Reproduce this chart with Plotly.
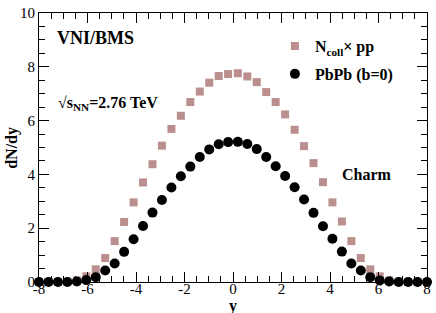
import plotly.graph_objects as go

rap = [-8.00, -7.61, -7.22, -6.83, -6.44, -6.05, -5.66, -5.27, -4.88, -4.49,
       -4.10, -3.71, -3.32, -2.93, -2.54, -2.15, -1.76, -1.37, -0.98, -0.59,
       -0.20, 0.20, 0.59, 0.98, 1.37, 1.76, 2.15, 2.54, 2.93, 3.32,
       3.71, 4.10, 4.49, 4.88, 5.27, 5.66, 6.05, 6.44, 6.83, 7.22,
       7.61, 8.00]

ncoll_pp = [0, 0, 0, 0.01, 0.06, 0.21, 0.47, 0.89, 1.52, 2.23,
            2.96, 3.70, 4.38, 5.07, 5.69, 6.18, 6.69, 7.08, 7.41, 7.66,
            7.73, 7.76, 7.64, 7.43, 7.06, 6.69, 6.23, 5.66, 5.05, 4.42,
            3.71, 2.96, 2.25, 1.52, 0.89, 0.47, 0.21, 0.06, 0.01, 0,
            0, 0]

pbpb = [0, 0, 0, 0, 0.02, 0.07, 0.18, 0.43, 0.69, 1.12,
        1.59, 2.08, 2.58, 3.05, 3.51, 3.93, 4.29, 4.65, 4.93, 5.12,
        5.20, 5.21, 5.13, 4.94, 4.65, 4.30, 3.94, 3.52, 3.07, 2.57,
        2.07, 1.61, 1.13, 0.69, 0.43, 0.18, 0.06, 0.02, 0, 0,
        0, 0]

x_ticks = [-8, -6, -4, -2, 0, 2, 4, 6, 8]
y_ticks = [0, 2, 4, 6, 8, 10]

FONT = "Liberation Serif, Times New Roman, serif"

fig = go.Figure()
fig.add_trace(go.Scatter(
    x=rap, y=ncoll_pp, mode="markers", name="<b>N<sub>coll</sub>× pp</b>",
    marker=dict(symbol="square", size=8, color="#BC8F8F"),
    cliponaxis=False, legendgroup="a", hoverinfo="skip"))
fig.add_trace(go.Scatter(
    x=rap, y=pbpb, mode="markers", name="<b>PbPb (b=0)</b>",
    marker=dict(symbol="circle", size=10, color="black"),
    cliponaxis=False, legendgroup="b", hoverinfo="skip"))

axis_common = dict(
    showgrid=False, zeroline=False, showline=True, linecolor="black",
    linewidth=1, mirror="allticks", ticks="inside", ticklen=10,
    tickcolor="black", tickwidth=1,
    tickfont=dict(family=FONT, size=15, color="black"),
    minor=dict(ticks="inside", ticklen=6, tickcolor="black", tickwidth=1, dtick=0.5,
               showgrid=False),
)

fig.update_xaxes(range=[-8, 8], tickvals=x_ticks, ticktext=[str(v) for v in x_ticks],
                 ticklabelstandoff=-7, **axis_common)
fig.update_yaxes(range=[0, 10], tickvals=y_ticks, ticktext=[str(v) for v in y_ticks],
                 ticklabelstandoff=0, **axis_common)

fig.add_annotation(x=-0.01, y=-0.05, xref="x", yref="paper", text="<b>y</b>",
                   showarrow=False, xanchor="center", yanchor="top",
                   font=dict(family=FONT, size=16, color="black"))
fig.add_annotation(x=-28 / 392, y=0.5, xref="paper", yref="paper", text="<b>dN/dy</b>",
                   showarrow=False, xanchor="center", yanchor="middle", textangle=-90,
                   font=dict(family=FONT, size=16, color="black"))
fig.add_annotation(x=-7.35, y=9.07, xref="x", yref="y", text="<b>VNI/BMS</b>",
                   showarrow=False, xanchor="left", yanchor="middle",
                   font=dict(family=FONT, size=18, color="black"))
fig.add_annotation(x=-7.30, y=6.63, xref="x", yref="y", text="<b>√s<sub>NN</sub>=2.76 TeV</b>",
                   showarrow=False, xanchor="left", yanchor="middle",
                   font=dict(family=FONT, size=16, color="black"))
fig.add_annotation(x=5.51, y=4.01, xref="x", yref="y", text="<b>Charm</b>",
                   showarrow=False, xanchor="center", yanchor="middle",
                   font=dict(family=FONT, size=16, color="black"))

fig.update_layout(
    width=436, height=313,
    margin=dict(l=39, r=5, t=8, b=31),
    paper_bgcolor="white", plot_bgcolor="white",
    showlegend=True, hovermode=False,
    legend=dict(x=0.608, y=0.94, xanchor="left", yanchor="top",
                bgcolor="rgba(0,0,0,0)", traceorder="grouped", tracegroupgap=4,
                font=dict(family=FONT, size=16, color="black")),
)

fig.write_html("out.html", config={"displayModeBar": False},
               post_script="document.body.style.margin='0';document.body.style.overflow='hidden';")
